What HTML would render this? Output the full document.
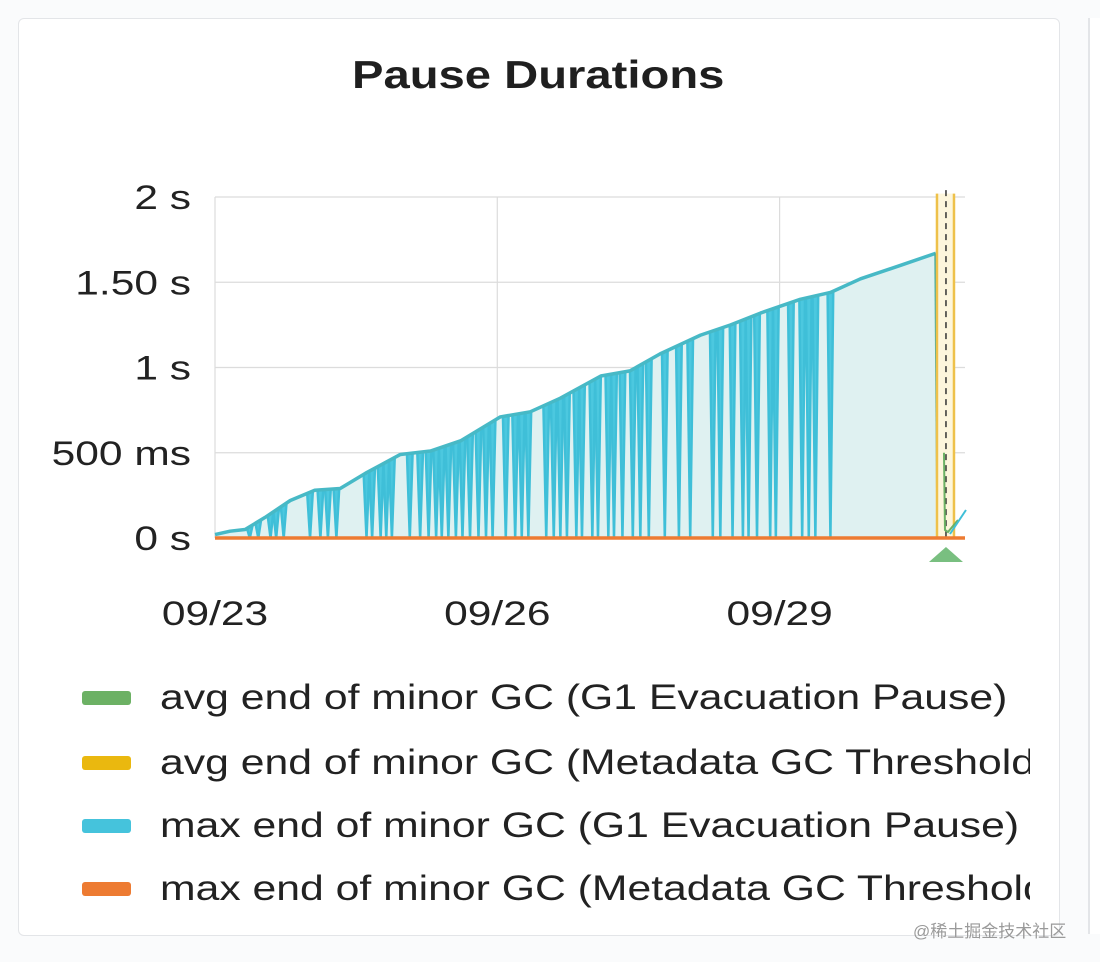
<!DOCTYPE html>
<html><head><meta charset="utf-8"><style>
html,body{margin:0;padding:0;width:1100px;height:962px;background:#fafbfc;overflow:hidden;font-family:"Liberation Sans","Noto Sans CJK SC",sans-serif}
#card{position:absolute;left:18px;top:18px;width:1040px;height:916px;background:#fff;border:1px solid #e3e5e8;border-radius:6px}
#side{position:absolute;left:1088px;top:18px;width:20px;height:916px;border-left:2px solid #e3e5e8;background:#fff}
#title{position:absolute;left:0;width:1076px;top:54px;text-align:center;font-size:39px;font-weight:bold;color:#1f1f1f;transform:scaleX(1.21);transform-origin:537px 0}
.leg{position:absolute;left:82px;height:50px;width:948px;overflow:hidden;white-space:nowrap}
.sw{position:absolute;left:0;top:18px;width:49px;height:14px;border-radius:3px}
.lt{position:absolute;left:78px;top:0;font-size:35px;color:#222;line-height:50px;transform:scaleX(1.22);transform-origin:0 0}
#wm{position:absolute;left:913px;top:917px;font-size:17px;color:#9a9a9a}
</style></head><body>
<div id="card"></div>
<div id="side"></div>
<div id="title">Pause Durations</div>
<svg id="chart" width="1100" height="660" style="position:absolute;left:0;top:0"></svg>
<div class="leg" style="top:673px"><div class="sw" style="background:#6cb164"></div><div class="lt">avg end of minor GC (G1 Evacuation Pause)</div></div>
<div class="leg" style="top:738px"><div class="sw" style="background:#eab80f"></div><div class="lt">avg end of minor GC (Metadata GC Threshold)</div></div>
<div class="leg" style="top:801px"><div class="sw" style="background:#45c3dc"></div><div class="lt">max end of minor GC (G1 Evacuation Pause)</div></div>
<div class="leg" style="top:864px"><div class="sw" style="background:#ed7b32"></div><div class="lt">max end of minor GC (Metadata GC Threshold)</div></div>
<div id="wm">@稀土掘金技术社区</div>
<script>
const yTicks=[0,0.5,1,1.5,2];
const yTickLabels=["0 s","500 ms","1 s","1.50 s","2 s"];
const xTicks=[0,3,6];
const xTickLabels=["09/23","09/26","09/29"];
const envDays=[0,.16,.32,.53,.80,1.06,1.33,1.60,1.97,2.29,2.61,3.03,3.35,3.67,4.10,4.41,4.73,5.16,5.48,5.80,6.22,6.54,6.86,7.29,7.66];
const envValues=[.02,.04,.05,.12,.22,.28,.29,.38,.49,.51,.57,.71,.74,.82,.95,.98,1.08,1.19,1.25,1.32,1.40,1.44,1.52,1.60,1.67];
const dipDays=[.37,.46,.59,.65,.73,1.01,1.12,1.20,1.29,1.61,1.67,1.76,1.82,1.88,2.07,2.18,2.27,2.35,2.41,2.48,2.56,2.63,2.71,2.80,2.88,2.95,3.09,3.19,3.26,3.33,3.52,3.60,3.67,3.74,3.84,3.90,4.01,4.07,4.18,4.24,4.33,4.44,4.52,4.61,4.78,4.93,5.05,5.29,5.37,5.50,5.61,5.67,5.76,5.90,5.96,6.12,6.24,6.31,6.38,6.54];
const metaDay=7.80;
const x0=215,x1=965,pxDay=94.1,y0=538,pxSec=170.5;
const X=d=>x0+d*pxDay, Y=v=>y0-v*pxSec;
const svg=document.getElementById('chart');const NS='http://www.w3.org/2000/svg';
function mk(t,a){const e=document.createElementNS(NS,t);for(const k in a)e.setAttribute(k,a[k]);svg.appendChild(e);return e;}
function env(d){for(let i=1;i<envDays.length;i++){if(d<=envDays[i]){const f=(d-envDays[i-1])/(envDays[i]-envDays[i-1]);return envValues[i-1]+f*(envValues[i]-envValues[i-1]);}}return envValues[envValues.length-1];}
const yScale=1.25;
yTicks.forEach((v,i)=>{
const g=mk('line',{x1:x0,x2:x1,y1:Y(v),y2:Y(v),stroke:'#dcdcdc','stroke-width':1.2});

const t=mk('text',{x:0,y:0,'text-anchor':'end','font-size':34,fill:'#222',transform:`translate(191,${Y(v)+12}) scale(${yScale},1)`});t.textContent=yTickLabels[i];
});
xTicks.forEach((d,i)=>{
const g=mk('line',{x1:X(d),x2:X(d),y1:Y(2),y2:y0,stroke:'#dcdcdc','stroke-width':1.2});

const t=mk('text',{x:0,y:0,'text-anchor':'middle','font-size':34,fill:'#222',transform:`translate(${X(d)},625) scale(${yScale},1)`});t.textContent=xTickLabels[i];
});
let pts=envDays.map((d,i)=>[X(d),Y(envValues[i])]);
let area='M'+X(envDays[0])+','+y0+' '+pts.map(p=>'L'+p[0]+','+p[1]).join(' ')+' L'+X(envDays[envDays.length-1])+','+y0+'Z';
const a=mk('path',{d:area,fill:'#dff1f1'});
dipDays.forEach(d=>{const w=0.03;const p=mk('path',{d:`M${X(d-w)},${Y(env(d-w))} L${X(d)},${y0} L${X(d+w)},${Y(env(d+w))}Z`,fill:'#4cc8df',stroke:'#3fbfd8','stroke-width':2.5});
});
const ln=mk('path',{d:'M'+pts.map(p=>p[0]+','+p[1]).join(' L'),fill:'none',stroke:'#47b9c6','stroke-width':3.5,'stroke-linejoin':'round'});

const last=pts[pts.length-1];
const dr=mk('line',{x1:last[0],y1:last[1],x2:last[0]+2,y2:y0,stroke:'#45aaa0','stroke-width':3});

const mx=X(metaDay)-3;
const band=mk('rect',{x:mx-9,y:Y(2.02),width:17,height:y0-Y(2.02),fill:'#fdf6dc'});
[mx-9,mx+8].forEach(xx=>{const l=mk('line',{x1:xx,x2:xx,y1:Y(2.02),y2:y0,stroke:'#eec14a','stroke-width':2.5});});
const ds=mk('line',{x1:mx,x2:mx,y1:Y(2.04),y2:y0,stroke:'#333','stroke-width':1.5,'stroke-dasharray':'6 5'});
const gl=mk('path',{d:`M${mx-2},${Y(0.5)} L${mx-1},${y0-8} L${mx+2},${y0-6} L${mx+12},${y0-18}`,fill:'none',stroke:'#6cb164','stroke-width':2});
const cl=mk('line',{x1:mx+4,y1:y0-4,x2:mx+20,y2:y0-28,stroke:'#3fbfd8','stroke-width':2});
const ob=mk('line',{x1:x0,x2:x1,y1:y0,y2:y0,stroke:'#ed7b32','stroke-width':3.5});
const tri=mk('path',{d:`M${mx},${y0+9} L${mx+17},${y0+24} L${mx-17},${y0+24}Z`,fill:'#79bf80'});
</script>
</body></html>
